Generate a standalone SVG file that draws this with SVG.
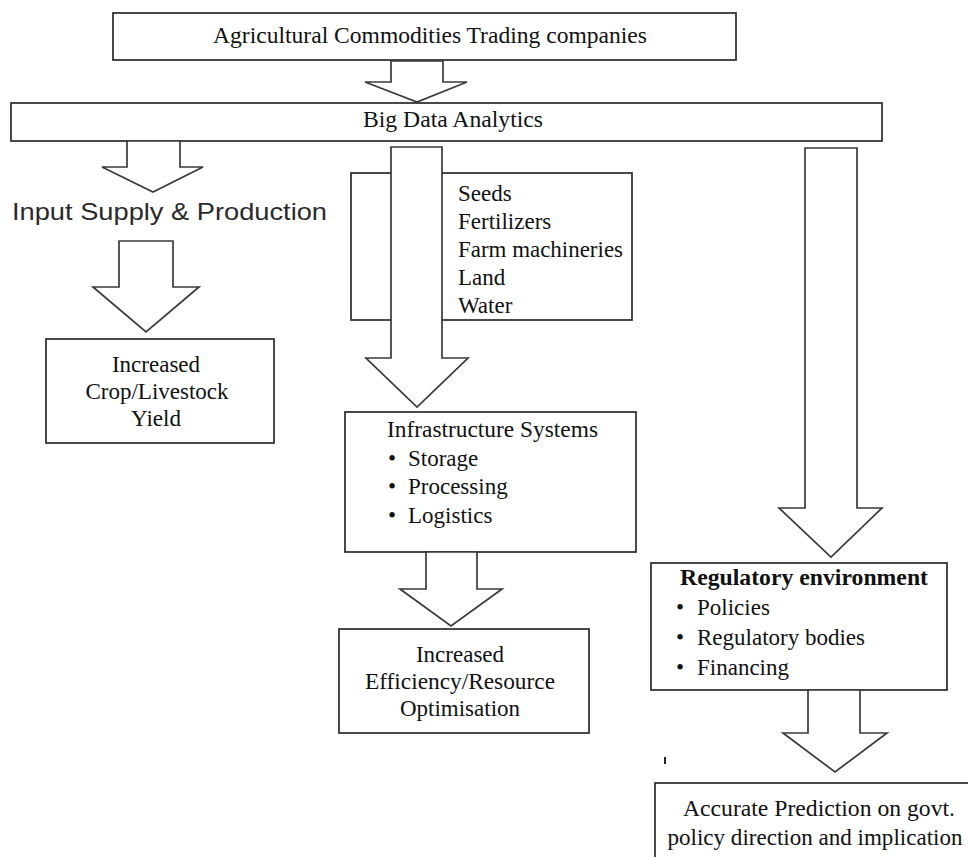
<svg xmlns="http://www.w3.org/2000/svg" width="968" height="857" viewBox="0 0 968 857">
<style>
.box{fill:#fff;stroke:#2a2a2a;stroke-width:1.7}
.arr{fill:#fff;stroke:#3a3a3a;stroke-width:1.7;stroke-linejoin:miter}
.t{font-family:"Liberation Serif","Times New Roman",serif;font-size:23px;fill:#111}
.c{text-anchor:middle}
.b{font-weight:bold}
.s{font-family:"Liberation Sans",Arial,sans-serif;font-size:24px;fill:#2a2a2a}
</style>
<rect x="0" y="0" width="968" height="857" fill="#fff"/>
<g id="node-trading">
<rect class="box" x="113" y="13" width="623" height="47"/>
<text class="t c" x="430" y="43" textLength="434" lengthAdjust="spacingAndGlyphs">Agricultural Commodities Trading companies</text>
</g>
<g id="node-bigdata">
<rect class="box" x="11" y="103" width="871" height="38"/>
<text class="t c" x="453" y="127" textLength="180" lengthAdjust="spacingAndGlyphs">Big Data Analytics</text>
</g>
<g id="node-input">
<text class="s" x="12" y="220" textLength="315" lengthAdjust="spacingAndGlyphs">Input Supply &amp; Production</text>
</g>
<g id="node-yield">
<rect class="box" x="46" y="339" width="228" height="104"/>
<text class="t c" x="156" y="372">Increased</text>
<text class="t c" x="157" y="399">Crop/Livestock</text>
<text class="t c" x="156" y="426">Yield</text>
</g>
<g id="node-inputs">
<rect class="box" x="351" y="173" width="281" height="147"/>
<text class="t" x="458" y="201">Seeds</text>
<text class="t" x="458" y="229">Fertilizers</text>
<text class="t" x="458" y="257" textLength="165" lengthAdjust="spacingAndGlyphs">Farm machineries</text>
<text class="t" x="458" y="285">Land</text>
<text class="t" x="458" y="313">Water</text>
</g>
<g id="node-infra">
<rect class="box" x="345" y="412" width="291" height="140"/>
<text class="t" x="387" y="437" textLength="211" lengthAdjust="spacingAndGlyphs">Infrastructure Systems</text>
<text class="t" x="388" y="466">•</text><text class="t" x="408" y="466">Storage</text>
<text class="t" x="388" y="494">•</text><text class="t" x="408" y="494">Processing</text>
<text class="t" x="388" y="523">•</text><text class="t" x="408" y="523">Logistics</text>
</g>
<g id="node-efficiency">
<rect class="box" x="339" y="629" width="250" height="104"/>
<text class="t c" x="460" y="662">Increased</text>
<text class="t c" x="460" y="689" textLength="190" lengthAdjust="spacingAndGlyphs">Efficiency/Resource</text>
<text class="t c" x="460" y="716">Optimisation</text>
</g>
<g id="node-regulatory">
<rect class="box" x="651" y="563" width="296" height="127"/>
<text class="t b" x="680" y="585" textLength="248" lengthAdjust="spacingAndGlyphs">Regulatory environment</text>
<text class="t" x="676" y="615">•</text><text class="t" x="697" y="615">Policies</text>
<text class="t" x="676" y="645">•</text><text class="t" x="697" y="645">Regulatory bodies</text>
<text class="t" x="676" y="675">•</text><text class="t" x="697" y="675">Financing</text>
</g>
<g id="node-prediction">
<rect class="box" x="655" y="783" width="330" height="90"/>
<text class="t c" x="819" y="816" textLength="272" lengthAdjust="spacingAndGlyphs">Accurate Prediction  on govt.</text>
<text class="t c" x="815" y="845" textLength="295" lengthAdjust="spacingAndGlyphs">policy direction  and implication</text>
</g>
<g id="connectors">
<polygon class="arr" points="391,61 443,61 443,82 467,82 417,102 365,82 391,82"/>
<polygon class="arr" points="127,141 180,141 180,167 203,167 153,192 102,167 127,167"/>
<polygon class="arr" points="119,241 173,241 173,287 199,287 146,332 93,287 119,287"/>
<polygon class="arr" points="391,147 442,147 442,358 468,358 417,407 366,358 391,358"/>
<polygon class="arr" points="426,552 477,552 477,589 502,589 451,626 400,589 426,589"/>
<polygon class="arr" points="805,148 857,148 857,508 882,508 831,557 779,508 805,508"/>
<polygon class="arr" points="808,690 860,690 860,733 887,733 835,772 783,733 808,733"/>
</g>
<line x1="665" y1="757" x2="665" y2="764" stroke="#222" stroke-width="2"/>
</svg>
